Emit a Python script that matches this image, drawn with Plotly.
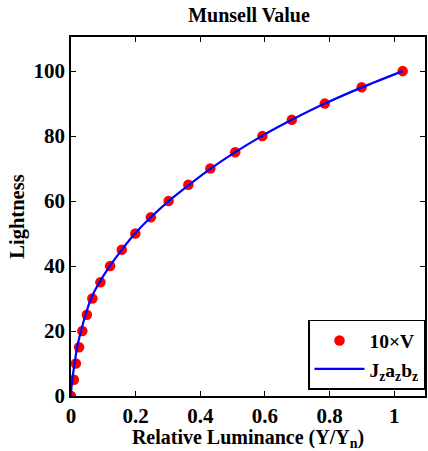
import plotly.graph_objects as go

# Munsell value data (10 x V) vs relative luminance
munsell_Y = [0.0, 0.009, 0.015, 0.025, 0.035, 0.049, 0.066, 0.091, 0.121, 0.157,
             0.199, 0.247, 0.302, 0.363, 0.431, 0.508, 0.592, 0.683, 0.785, 0.899, 1.026]
munsell_L = [0, 5, 10, 15, 20, 25, 30, 35, 40, 45, 50, 55, 60, 65, 70, 75, 80, 85, 90, 95, 100]

# Jzazbz curve
jz_Y = [0.0, 0.001, 0.004, 0.011, 0.019, 0.031, 0.045, 0.062, 0.088, 0.12, 0.157,
        0.198, 0.247, 0.302, 0.365, 0.432, 0.507, 0.59, 0.683, 0.785, 0.9, 1.026]
jz_L = [0, 2, 5, 10, 15, 20, 25, 30, 35, 40, 45, 50, 55, 60, 65, 70, 75, 80, 85, 90, 95, 100]

FONT = "Liberation Serif, Times New Roman, serif"

fig = go.Figure()
fig.add_trace(go.Scatter(
    x=munsell_Y, y=munsell_L, mode="markers", name="10×V",
    marker=dict(color="#ff0000", size=10.5, line=dict(width=0)),
))
fig.add_trace(go.Scatter(
    x=jz_Y, y=jz_L, mode="lines", name="J<sub>z</sub>a<sub>z</sub>b<sub>z</sub>",
    line=dict(color="#0000ff", width=2.2, shape="spline"),
))

axis_common = dict(
    showline=True, linecolor="black", linewidth=1.5, mirror="ticks",
    ticks="inside", ticklen=5, tickwidth=1, tickcolor="black",
    showgrid=False, zeroline=False,
    tickfont=dict(family=FONT, size=21, color="black", weight="bold"),
)

fig.update_layout(
    width=428, height=451,
    margin=dict(l=71, r=1, t=37, b=55),
    paper_bgcolor="white", plot_bgcolor="white",
    font=dict(family=FONT, color="black", weight="bold"),
    title=dict(text="Munsell Value", x=0.5 * (71 + 427) / 428, xanchor="center",
               y=1 - 15 / 451, yanchor="middle", yref="container",
               font=dict(family=FONT, size=20, color="black", weight="bold")),
    xaxis=dict(range=[0, 1.095], tickvals=[0, 0.2, 0.4, 0.6, 0.8, 1],
               ticktext=["0", "0.2", "0.4", "0.6", "0.8", "1"],
               title=dict(text="Relative Luminance (Y/Y<sub>n</sub>)", standoff=0,
                          font=dict(family=FONT, size=20, color="black", weight="bold")),
               **axis_common),
    yaxis=dict(range=[0, 110.5], tickvals=[0, 20, 40, 60, 80, 100],
               title=dict(text="Lightness", standoff=3,
                          font=dict(family=FONT, size=20.5, color="black", weight="bold")),
               **axis_common),
    legend=dict(x=1, xanchor="right", y=0.017, yanchor="bottom",
                bgcolor="white", bordercolor="black", borderwidth=1.5,
                font=dict(family=FONT, size=19.5, color="black", weight="bold"),
                itemwidth=50, tracegroupgap=0),
    showlegend=True,
)

fig.write_html("out.html")
